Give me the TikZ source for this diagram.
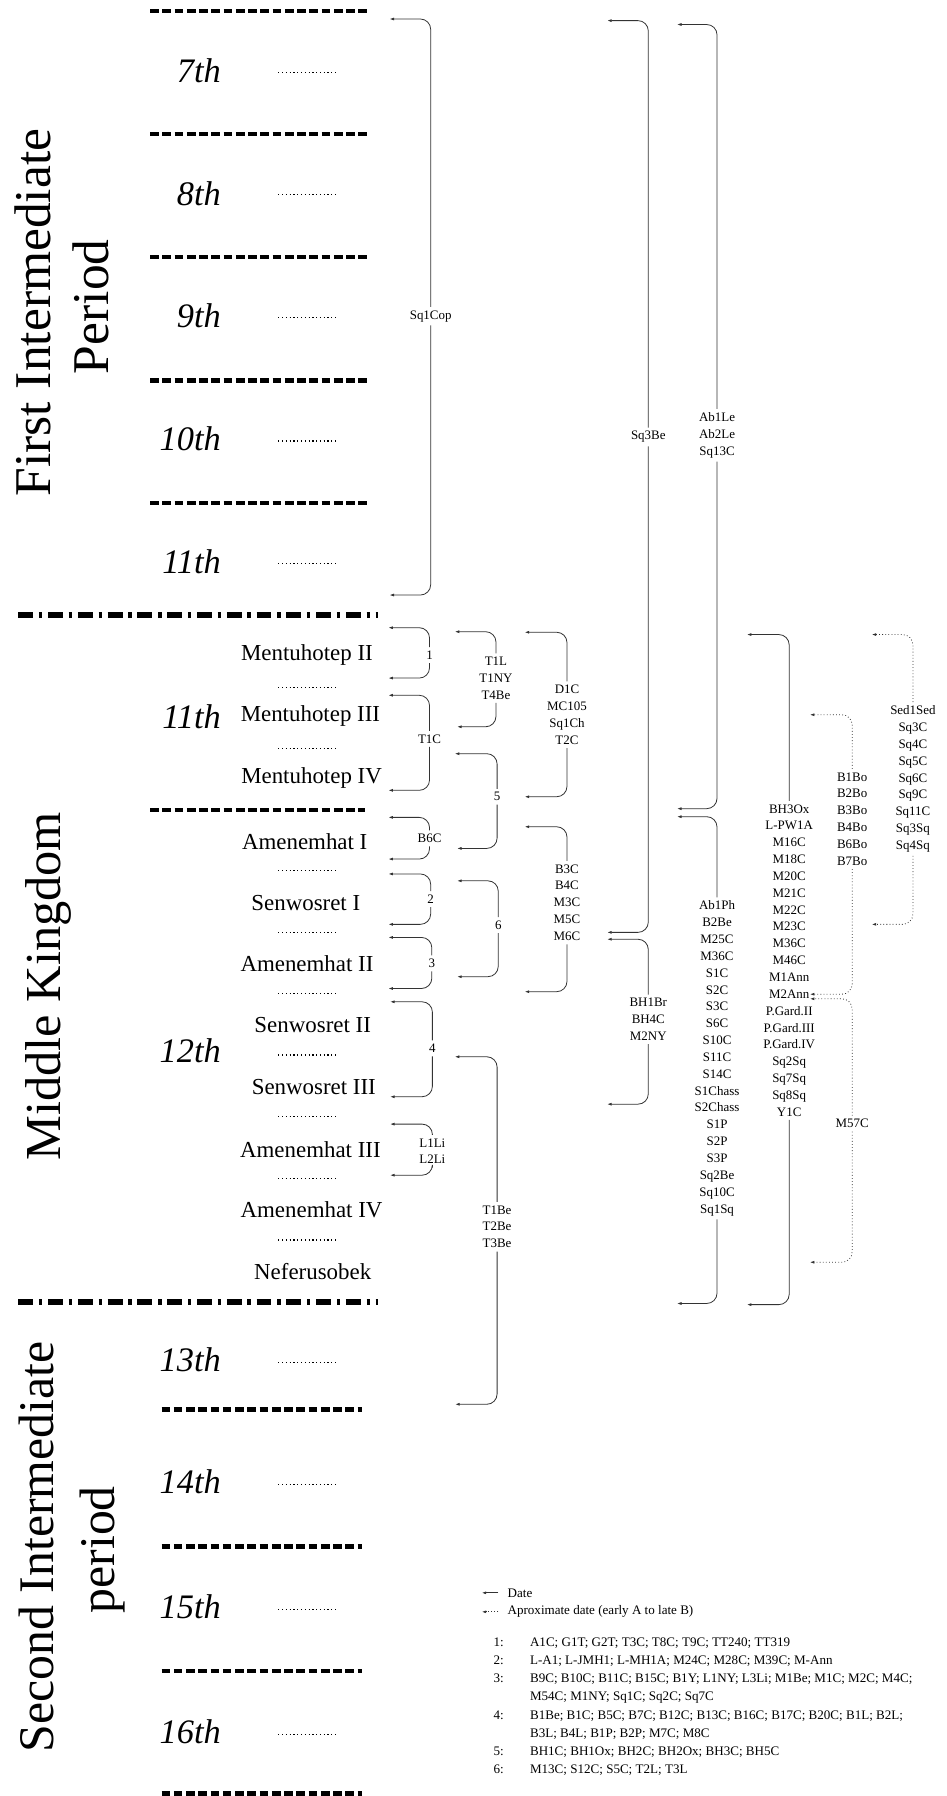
\documentclass[tikz,border=0pt]{standalone}
\usepackage{fontspec}
\setmainfont{Liberation Serif}
\usetikzlibrary{arrows.meta}

\begin{document}
\begin{tikzpicture}[x=1pt, y=-1pt,
    era/.style={rotate=90, anchor=base, inner sep=0pt, font=\fontsize{45}{48}\selectfont},
    dyn/.style={anchor=east, inner sep=0pt, font=\fontsize{30}{32}\selectfont\itshape},
    reign/.style={inner sep=1pt, font=\fontsize{20}{22}\selectfont},
    sigla/.style={align=center, inner sep=3pt, font=\fontsize{11.3}{14.7}\selectfont},
    legend/.style={anchor=west, inner xsep=8pt, inner ysep=1pt, font=\fontsize{11.4}{15.9}\selectfont},
    leader/.style={line width=1pt, dash pattern=on 1pt off 2.3pt},
    dynline/.style={line width=4pt, dash pattern=on 7.6pt off 3.1pt},
    eraline/.style={line width=5.5pt, dash pattern=on 13pt off 5pt on 3pt off 5pt},
    brk/.style={draw=black!80, line width=0.7pt, rounded corners=9pt,
        -{Latex[length=4pt,width=2.6pt]}},
    abrk/.style={brk, dash pattern=on 0.7pt off 2pt}
]
\useasboundingbox (0,0) rectangle (826,1568);

% periods
\node[era] (fip) at (43.7,272.9) {First Intermediate};
\node[era] (fipb) at (94.6,267.8) {Period};
\node[era, font=\fontsize{44}{48}\selectfont] (mk) at (52.4,861) {Middle Kingdom};
\node[era, font=\fontsize{43.5}{48}\selectfont] (sip) at (46.6,1350.4) {Second Intermediate};
\node[era, font=\fontsize{43.5}{48}\selectfont] (sipb) at (100,1353) {period};

\draw[eraline] (16,537) -- (330,537);
\draw[eraline] (16,1137) -- (330,1137);

% dynasties
\foreach \y in {9.7,117,224.5,332,439}
    \draw[dynline] (131,\y) -- (322,\y);
\draw[dynline] (131,707.2) -- (319,707.2);
\foreach \y in {1230.5,1350.4,1458.7,1565.7}
    \draw[dynline] (141,\y) -- (316,\y);

\node[dyn] (d7) at (193,62) {7th};
\node[dyn] (d8) at (193,169) {8th};
\node[dyn] (d9) at (193,276) {9th};
\node[dyn] (d10) at (193,383) {10th};
\node[dyn] (d11) at (193,490) {11th};
\node[dyn] (mk11) at (193,625.5) {11th};
\node[dyn] (mk12) at (193,917) {12th};
\node[dyn] (d13) at (193,1187.4) {13th};
\node[dyn] (d14) at (193,1293.7) {14th};
\node[dyn] (d15) at (193,1402.8) {15th};
\node[dyn] (d16) at (193,1511.9) {16th};

\foreach \y in {63,170,277,385,492,1189.7,1296,1405,1514}
    \draw[leader] (243,\y) -- (295,\y);

% kings
\node[reign] (mhtwo) at (268,572) {Mentuhotep II};
\node[reign] (mhthree) at (271,625) {Mentuhotep III};
\node[reign] (mhfour) at (272,679) {Mentuhotep IV};
\node[reign] (aone) at (266,735) {Amenemhat I};
\node[reign] (sone) at (267,788) {Senwosret I};
\node[reign] (atwo) at (268,841) {Amenemhat II};
\node[reign] (stwo) at (273,895) {Senwosret II};
\node[reign] (sthree) at (274,949) {Senwosret III};
\node[reign] (athree) at (271,1003.5) {Amenemhat III};
\node[reign] (afour) at (272,1056) {Amenemhat IV};
\node[reign] (nefer) at (273,1110) {Neferusobek};

\foreach \y in {600,653.4,760,814,867,921,975,1028.8,1082.6}
    \draw[leader] (243,\y) -- (295,\y);

% dated objects, near column
\node[sigla] (one) at (375,572) {1};
\coordinate (one-t) at (339,548);
\coordinate (one-b) at (339,592);
\draw[brk] (one.north) |- (one-t);
\draw[brk] (one.south) |- (one-b);

\node[sigla] (tc) at (375,645) {T1C};
\coordinate (tc-t) at (339,607);
\coordinate (tc-b) at (339,690);
\draw[brk] (tc.north) |- (tc-t);
\draw[brk] (tc.south) |- (tc-b);

\node[sigla] (bsix) at (375,732) {B6C};
\coordinate (bsix-t) at (339,713.6);
\coordinate (bsix-b) at (339,750);
\draw[brk] (bsix.north) |- (bsix-t);
\draw[brk] (bsix.south) |- (bsix-b);

\node[sigla] (two) at (376,785) {2};
\coordinate (two-t) at (339,763);
\coordinate (two-b) at (339,807);
\draw[brk] (two.north) |- (two-t);
\draw[brk] (two.south) |- (two-b);

\node[sigla] (three) at (377,841) {3};
\coordinate (three-t) at (339,818.4);
\coordinate (three-b) at (339,863);
\draw[brk] (three.north) |- (three-t);
\draw[brk] (three.south) |- (three-b);

\node[sigla] (four) at (377.5,915.3) {4};
\coordinate (four-t) at (340.5,874.6);
\coordinate (four-b) at (340.5,957.5);
\draw[brk] (four.north) |- (four-t);
\draw[brk] (four.south) |- (four-b);

\node[sigla] (lli) at (377.5,1005) {L1Li\\L2Li};
\coordinate (lli-t) at (340.5,981.4);
\coordinate (lli-b) at (340.5,1026);
\draw[brk] (lli.north) |- (lli-t);
\draw[brk] (lli.south) |- (lli-b);

% second column
\node[sigla] (tl) at (433,592) {T1L\\T1NY\\T4Be};
\coordinate (tl-t) at (397,551.5);
\coordinate (tl-b) at (399,634.5);
\draw[brk] (tl.north) |- (tl-t);
\draw[brk] (tl.south) |- (tl-b);

\node[sigla] (five) at (434,695.6) {5};
\coordinate (five-t) at (397,658);
\coordinate (five-b) at (399,740.7);
\draw[brk] (five.north) |- (five-t);
\draw[brk] (five.south) |- (five-b);

\node[sigla] (six) at (435,807.6) {6};
\coordinate (six-t) at (399,769);
\coordinate (six-b) at (399,852.7);
\draw[brk] (six.north) |- (six-t);
\draw[brk] (six.south) |- (six-b);

\node[sigla] (tbe) at (434,1071) {T1Be\\T2Be\\T3Be};
\coordinate (tbe-t) at (397,922.6);
\coordinate (tbe-b) at (397.3,1226);
\draw[brk] (tbe.north) |- (tbe-t);
\draw[brk] (tbe.south) |- (tbe-b);

% third column
\node[sigla] (dc) at (495,624) {D1C\\MC105\\Sq1Ch\\T2C};
\coordinate (dc-t) at (458,552);
\coordinate (dc-b) at (458,695.6);
\draw[brk] (dc.north) |- (dc-t);
\draw[brk] (dc.south) |- (dc-b);

\node[sigla] (bthree) at (495,788) {B3C\\B4C\\M3C\\M5C\\M6C};
\coordinate (bthree-t) at (458,721.8);
\coordinate (bthree-b) at (458,865.8);
\draw[brk] (bthree.north) |- (bthree-t);
\draw[brk] (bthree.south) |- (bthree-b);

% long spans
\node[sigla] (sqcop) at (376,276) {Sq1Cop};
\coordinate (sqcop-t) at (340,16.6);
\coordinate (sqcop-b) at (340,519.5);
\draw[brk] (sqcop.north) |- (sqcop-t);
\draw[brk] (sqcop.south) |- (sqcop-b);

\node[sigla] (sqbe) at (566,381.5) {Sq3Be};
\coordinate (sqbe-t) at (530,18);
\coordinate (sqbe-b) at (530,814);
\draw[brk] (sqbe.north) |- (sqbe-t);
\draw[brk] (sqbe.south) |- (sqbe-b);

\node[sigla] (bhbr) at (566,890) {BH1Br\\BH4C\\M2NY};
\coordinate (bhbr-t) at (530,820);
\coordinate (bhbr-b) at (530,964);
\draw[brk] (bhbr.north) |- (bhbr-t);
\draw[brk] (bhbr.south) |- (bhbr-b);

\node[sigla] (able) at (626,380) {Ab1Le\\Ab2Le\\Sq13C};
\coordinate (able-t) at (591,21.4);
\coordinate (able-b) at (591,706);
\draw[brk] (able.north) |- (able-t);
\draw[brk] (able.south) |- (able-b);

\node[sigla] (abph) at (626,924) {Ab1Ph\\B2Be\\M25C\\M36C\\S1C\\S2C\\S3C\\S6C\\S10C\\S11C\\S14C\\S1Chass\\S2Chass\\S1P\\S2P\\S3P\\Sq2Be\\Sq10C\\Sq1Sq};
\coordinate (abph-t) at (591,713);
\coordinate (abph-b) at (591,1138);
\draw[brk] (abph.north) |- (abph-t);
\draw[brk] (abph.south) |- (abph-b);

\node[sigla] (bhox) at (689,838.5) {BH3Ox\\L-PW1A\\M16C\\M18C\\M20C\\M21C\\M22C\\M23C\\M36C\\M46C\\M1Ann\\M2Ann\\P.Gard.II\\P.Gard.III\\P.Gard.IV\\Sq2Sq\\Sq7Sq\\Sq8Sq\\Y1C};
\coordinate (bhox-t) at (652,554);
\coordinate (bhox-b) at (652,1139);
\draw[brk] (bhox.north) |- (bhox-t);
\draw[brk] (bhox.south) |- (bhox-b);

% approximate dates
\node[sigla] (bobo) at (744,715) {B1Bo\\B2Bo\\B3Bo\\B4Bo\\B6Bo\\B7Bo};
\coordinate (bobo-t) at (707,624);
\coordinate (bobo-b) at (707,868);
\draw[abrk] (bobo.north) |- (bobo-t);
\draw[abrk] (bobo.south) |- (bobo-b);

\node[sigla] (msc) at (744,981) {M57C};
\coordinate (msc-t) at (707,872);
\coordinate (msc-b) at (707,1102);
\draw[abrk] (msc.north) |- (msc-t);
\draw[abrk] (msc.south) |- (msc-b);

\node[sigla] (sed) at (797,680) {Sed1Sed\\Sq3C\\Sq4C\\Sq5C\\Sq6C\\Sq9C\\Sq11C\\Sq3Sq\\Sq4Sq};
\coordinate (sed-t) at (761,554);
\coordinate (sed-b) at (761,807);
\draw[abrk] (sed.north) |- (sed-t);
\draw[abrk] (sed.south) |- (sed-b);

% key
\node[legend] (kdate) at (435,1390.6) {Date};
\coordinate (kdate-t) at (420.5,1390.6);
\draw[brk] (kdate.west) -- (kdate-t);
\node[legend] (kappr) at (435,1407.2) {Aproximate date (early A to late B)};
\coordinate (kappr-t) at (420.5,1407.2);
\draw[abrk] (kappr.west) -- (kappr-t);

\node[anchor=base west, inner sep=0pt, font=\fontsize{11.4}{15.9}\selectfont] (klist) at (430.7,1437.2) {%
  \begin{tabular}[t]{@{}l@{\hspace{23pt}}l@{}}
  1: & A1C; G1T; G2T; T3C; T8C; T9C; TT240; TT319\\
  2: & L-A1; L-JMH1; L-MH1A; M24C; M28C; M39C; M-Ann\\
  3: & B9C; B10C; B11C; B15C; B1Y; L1NY; L3Li; M1Be; M1C; M2C; M4C;\\
     & M54C; M1NY; Sq1C; Sq2C; Sq7C\\
  4: & B1Be; B1C; B5C; B7C; B12C; B13C; B16C; B17C; B20C; B1L; B2L;\\
     & B3L; B4L; B1P; B2P; M7C; M8C\\
  5: & BH1C; BH1Ox; BH2C; BH2Ox; BH3C; BH5C\\
  6: & M13C; S12C; S5C; T2L; T3L
  \end{tabular}};
\end{tikzpicture}
\end{document}
